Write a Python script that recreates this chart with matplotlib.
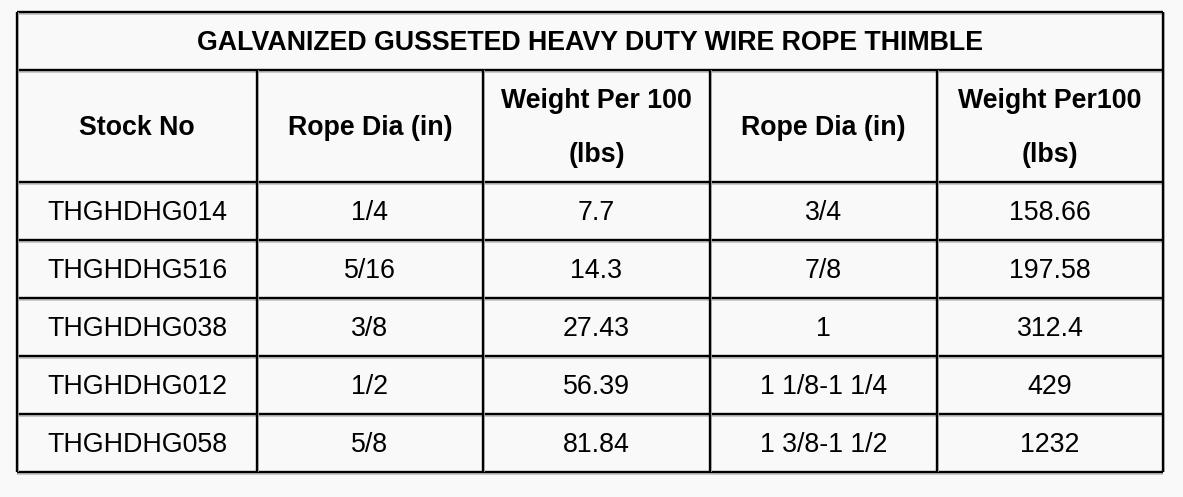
import matplotlib.pyplot as plt

plt.rcParams['font.family'] = ['Liberation Sans', 'DejaVu Sans']

title = 'GALVANIZED GUSSETED HEAVY DUTY WIRE ROPE THIMBLE'
headers = ['Stock No', 'Rope Dia (in)', 'Weight Per 100\n(lbs)', 'Rope Dia (in)', 'Weight Per100\n(lbs)']
stock_no = ['THGHDHG014', 'THGHDHG516', 'THGHDHG038', 'THGHDHG012', 'THGHDHG058']
rope_dia_1 = ['1/4', '5/16', '3/8', '1/2', '5/8']
weight_1 = ['7.7', '14.3', '27.43', '56.39', '81.84']
rope_dia_2 = ['3/4', '7/8', '1', '1 1/8-1 1/4', '1 3/8-1 1/2']
weight_2 = ['158.66', '197.58', '312.4', '429', '1232']

# layout in pixels
col_x = [17, 257, 483, 710, 937, 1163]
row_y = [12, 70, 182, 240, 298, 356, 414, 472]
fs = 19.3

fig = plt.figure(figsize=(11.83, 4.97), dpi=100)
fig.patch.set_facecolor('#f9f9f9')
ax = fig.add_axes([0, 0, 1, 1])
ax.set_xlim(0, 1183)
ax.set_ylim(497, 0)
ax.axis('off')

def hline(x0, x1, y):
    ax.plot([x0, x1], [y + 1.5, y + 1.5], color='#c0c0c0', lw=1.2, solid_capstyle='butt')
    ax.plot([x0, x1], [y, y], color='black', lw=1.7, solid_capstyle='butt')

def vline(x, y0, y1):
    ax.plot([x + 1.5, x + 1.5], [y0, y1], color='#c0c0c0', lw=1.2, solid_capstyle='butt')
    ax.plot([x, x], [y0, y1], color='black', lw=1.7, solid_capstyle='butt')

# grid lines
for y in row_y:
    hline(col_x[0], col_x[-1], y)
vline(col_x[0], row_y[0], row_y[-1])
vline(col_x[-1], row_y[0], row_y[-1])
for x in col_x[1:-1]:
    vline(x, row_y[1], row_y[-1])

# title
ax.text((col_x[0] + col_x[-1]) / 2, (row_y[0] + row_y[1]) / 2 + 2, title,
        ha='center', va='center', fontsize=fs, fontweight='bold')

# headers
for i, h in enumerate(headers):
    cx = (col_x[i] + col_x[i + 1]) / 2
    cy = (row_y[1] + row_y[2]) / 2 + 2
    ax.text(cx, cy, h, ha='center', va='center', fontsize=fs, fontweight='bold',
            linespacing=2.45)

# body
columns = [stock_no, rope_dia_1, weight_1, rope_dia_2, weight_2]
for i, col in enumerate(columns):
    cx = (col_x[i] + col_x[i + 1]) / 2
    for j, val in enumerate(col):
        cy = (row_y[j + 2] + row_y[j + 3]) / 2 + 2
        ax.text(cx, cy, val, ha='center', va='center', fontsize=fs)

fig.savefig('out.png', dpi=100, facecolor=fig.get_facecolor())
